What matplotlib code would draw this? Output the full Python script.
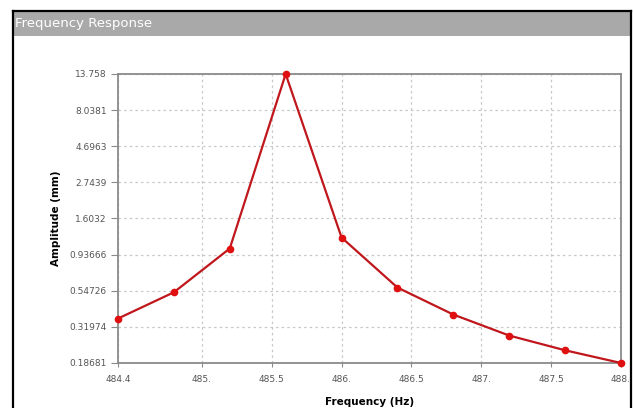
import matplotlib
matplotlib.use("Agg")
import matplotlib.pyplot as plt
from matplotlib.patches import Rectangle
from matplotlib.lines import Line2D
from matplotlib.ticker import FixedLocator, NullLocator

# Данные частотного отклика
freq = [484.4, 484.8, 485.2, 485.6, 486.0, 486.4, 486.8, 487.2, 487.6, 488.0]
amplitude = [0.362, 0.535, 1.026, 13.758, 1.208, 0.574, 0.384, 0.281, 0.2257, 0.18681]

x_ticks = [484.4, 485.0, 485.5, 486.0, 486.5, 487.0, 487.5, 488.0]
x_labels = ['484.4', '485.', '485.5', '486.', '486.5', '487.', '487.5', '488.']
y_ticks = [0.18681, 0.31974, 0.54726, 0.93666, 1.6032, 2.7439, 4.6963, 8.0381, 13.758]
y_labels = ['0.18681', '0.31974', '0.54726', '0.93666', '1.6032', '2.7439',
            '4.6963', '8.0381', '13.758']

W, H = 633, 408
fig = plt.figure(figsize=(W / 100, H / 100), dpi=100)
fig.patch.set_facecolor('white')

# Серая полоса заголовка и рамка окна
fig.add_artist(Rectangle((13 / W, 1 - 36 / H), 618 / W, 25 / H,
                         transform=fig.transFigure, facecolor='#a9a9a9',
                         edgecolor='none'))
fig.text(15 / W, 1 - 24 / H, 'Frequency Response', color='white',
         fontsize=9.5, va='center', ha='left')
for xs, ys in [([13 / W, 13 / W], [0, 1 - 11 / H]),
               ([631 / W, 631 / W], [0, 1 - 11 / H]),
               ([13 / W, 631 / W], [1 - 11 / H, 1 - 11 / H])]:
    fig.add_artist(Line2D(xs, ys, transform=fig.transFigure, color='black',
                          linewidth=1.6))

ax = fig.add_axes([118 / W, 1 - 363 / H, 503 / W, 289 / H])
ax.plot(freq, amplitude, color='#c0171c', linewidth=1.6, marker='o',
        markersize=4.5, markerfacecolor='#e01010', markeredgecolor='#e01010',
        zorder=3, clip_on=False)

ax.set_yscale('log')
ax.set_xlim(484.4, 488.0)
ax.set_ylim(0.18681, 13.758)
ax.xaxis.set_major_locator(FixedLocator(x_ticks))
ax.set_xticklabels(x_labels)
ax.yaxis.set_major_locator(FixedLocator(y_ticks))
ax.yaxis.set_minor_locator(NullLocator())
ax.set_yticklabels(y_labels)

ax.grid(True, color='#c8c8c8', linestyle=(0, (2, 2.5)), linewidth=0.9)
for s in ax.spines.values():
    s.set_color('#8a8a8a')
    s.set_linewidth(1.3)

ax.tick_params(axis='y', colors='#8a8a8a', labelcolor='#555555',
               labelsize=6.5, length=5, width=0.8, pad=3)
ax.tick_params(axis='x', colors='#8a8a8a', labelcolor='#555555',
               labelsize=6.5, length=3, width=0.8, pad=6)

ax.set_ylabel('Amplitude (mm)', fontsize=7.5, fontweight='bold', labelpad=6)
ax.set_xlabel('Frequency (Hz)', fontsize=7.5, fontweight='bold', labelpad=9)

fig.savefig('out.png', dpi=100)
